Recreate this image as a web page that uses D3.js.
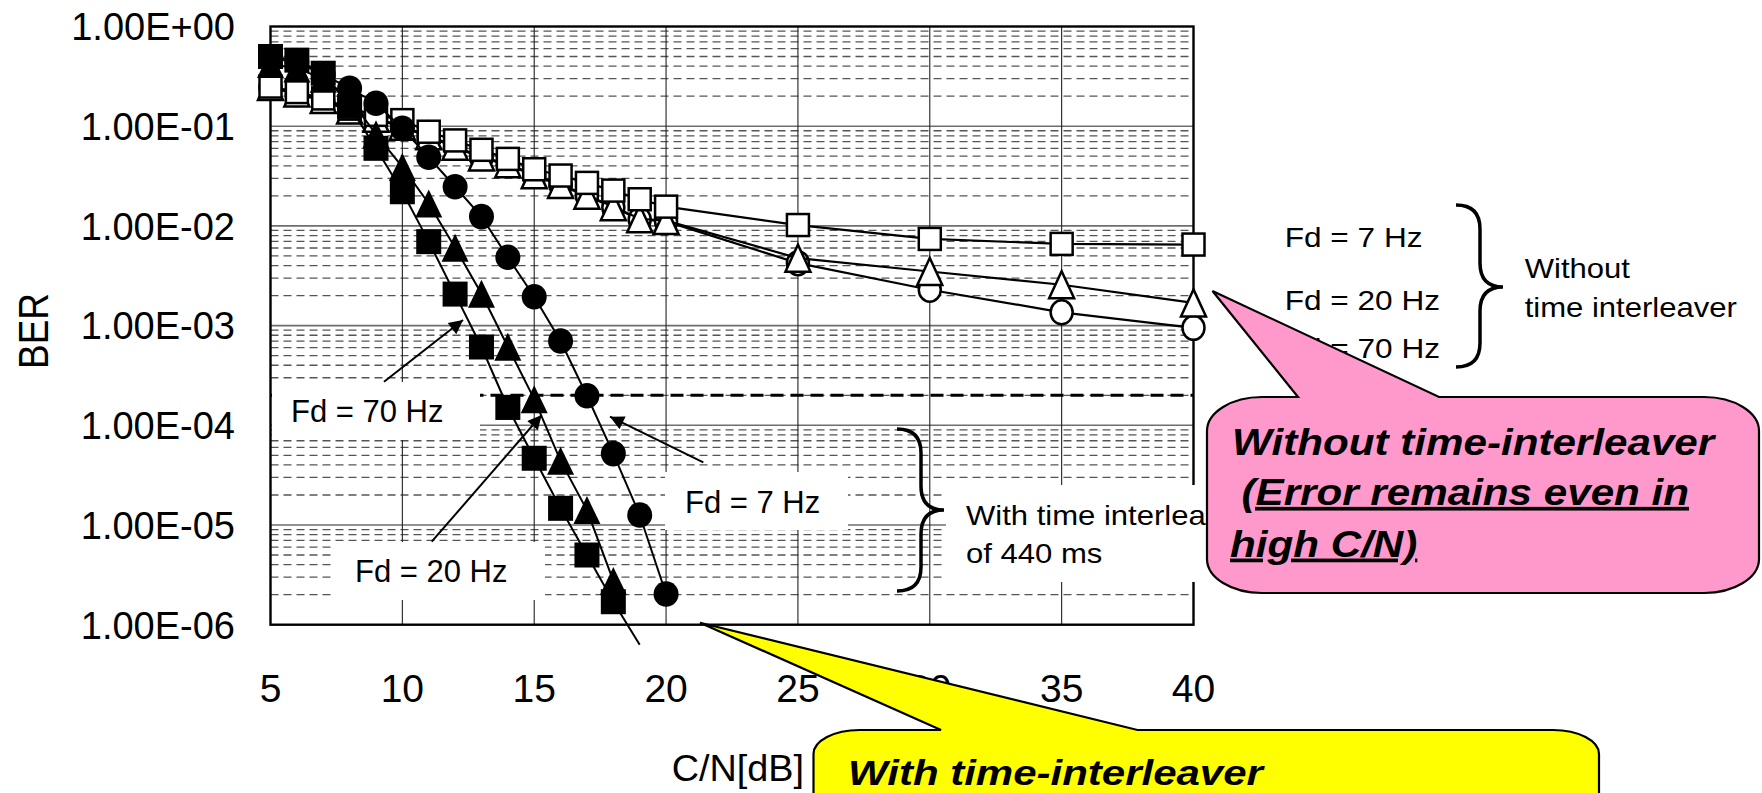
<!DOCTYPE html>
<html>
<head>
<meta charset="utf-8">
<script src="https://cdn.jsdelivr.net/npm/d3@7"></script>
<style>
  html, body { margin: 0; padding: 0; background: #fff; }
  svg { display: block; font-family: "Liberation Sans", Arial, sans-serif; }
</style>
</head>
<body>
<div id="chart"></div>
<script>
// chart size and plot frame
const width = 1762, height = 793;
const plot = {left: 270.5, right: 1193.5, top: 26.5, bottom: 624.7};

// ---- data ----
// x values (C/N in dB)
const cnWithout = [5, 6, 7, 8, 9, 10, 11, 12, 13, 14, 15, 16, 17, 18, 19, 20, 25, 30, 35, 40];
const cnWith7 = [5, 6, 7, 8, 9, 10, 11, 12, 13, 14, 15, 16, 17, 18, 19, 20];
const cnWith20 = [5, 6, 7, 8, 9, 10, 11, 12, 13, 14, 15, 16, 17, 18];
const cnWith70 = [5, 6, 7, 8, 9, 10, 11, 12, 13, 14, 15, 16, 17, 18, 19];

// without time interleaver (open markers)
const berWithout7 = [0.25, 0.22, 0.19, 0.15, 0.13, 0.115, 0.088, 0.072, 0.058, 0.047, 0.037, 0.032,
                     0.027, 0.0226, 0.0185, 0.0156, 0.0102, 0.0074, 0.0066, 0.0065];
const berWithout20 = [0.25, 0.215, 0.185, 0.145, 0.12, 0.1, 0.08, 0.063, 0.049, 0.042, 0.0325, 0.026,
                      0.0203, 0.0156, 0.0118, 0.0113, 0.00475, 0.00349, 0.00257, 0.00169];
const berWithout70 = [0.245, 0.21, 0.18, 0.142, 0.118, 0.098, 0.078, 0.062, 0.048, 0.041, 0.032, 0.0255,
                      0.02, 0.0153, 0.0116, 0.0111, 0.00423, 0.00229, 0.00136, 0.00095];

// with time interleaver of 440 ms (filled markers)
const berWith7 = [0.48, 0.44, 0.33, 0.24, 0.17, 0.095, 0.0488, 0.0247, 0.0124, 0.00484, 0.00195,
                  0.0007, 0.000198, 5.2e-5, 1.26e-5, 2.03e-6];
const berWith20 = [0.42, 0.38, 0.3, 0.19, 0.083, 0.039, 0.0168, 0.00605, 0.00209, 0.000614, 0.000183,
                   4.4e-5, 1.41e-5, 2.75e-6];
const berWith70 = [0.5, 0.46, 0.34, 0.158, 0.06, 0.022, 0.00695, 0.00207, 0.00061, 0.000151, 4.67e-5,
                   1.47e-5, 5.0e-6, 1.7e-6, 6.3e-7];

// reference level (dashed line)
const berTarget = 2e-4;

// axis ticks
const xTicks = [5, 10, 15, 20, 25, 30, 35, 40];
const yTicks = [1, 1e-1, 1e-2, 1e-3, 1e-4, 1e-5, 1e-6];
const yTickLabels = ["1.00E+00", "1.00E-01", "1.00E-02", "1.00E-03", "1.00E-04", "1.00E-05", "1.00E-06"];

// ---- svg ----
const svg = d3.select("#chart").append("svg")
  .attr("width", width)
  .attr("height", height);

const xScale = d3.scaleLinear().domain([5, 40]).range([plot.left, plot.right]);
const yScale = d3.scaleLog().domain([1e-6, 1]).range([plot.bottom, plot.top]);

// text with a horizontal stretch, like the squashed slide text
function addText(str, x, y, o) {
  o = o || {};
  const t = svg.append("text")
    .attr("transform", "translate(" + x + "," + y + ") scale(" + (o.sx || 1) + ",1)")
    .attr("font-size", o.size || 27)
    .attr("text-anchor", o.anchor || "start")
    .attr("fill", "#000")
    .text(str);
  if (o.bold) t.attr("font-weight", "bold");
  if (o.italic) t.attr("font-style", "italic");
  if (o.underline) t.attr("text-decoration", "underline");
  return t;
}

// ---- grid ----
const grid = svg.append("g");

// minor (dashed) horizontal lines 2..9 per decade
const minorVals = [];
d3.range(-6, 0).forEach(function(e) {
  d3.range(2, 10).forEach(function(k) { minorVals.push(k * Math.pow(10, e)); });
});
grid.selectAll(".minor").data(minorVals).enter().append("line")
  .attr("x1", plot.left).attr("x2", plot.right)
  .attr("y1", d => yScale(d)).attr("y2", d => yScale(d))
  .attr("stroke", "#555").attr("stroke-width", 1.3)
  .attr("stroke-dasharray", "8,5");

// major horizontal lines
grid.selectAll(".major").data(yTicks.slice(1, -1)).enter().append("line")
  .attr("x1", plot.left).attr("x2", plot.right)
  .attr("y1", d => yScale(d)).attr("y2", d => yScale(d))
  .attr("stroke", "#6e6e6e").attr("stroke-width", 1.6);

// vertical lines
grid.selectAll(".vert").data(xTicks.slice(1, -1)).enter().append("line")
  .attr("x1", d => xScale(d)).attr("x2", d => xScale(d))
  .attr("y1", plot.top).attr("y2", plot.bottom)
  .attr("stroke", "#222").attr("stroke-width", 1.1);

// 2E-4 reference line
svg.append("line")
  .attr("x1", plot.left).attr("x2", plot.right)
  .attr("y1", yScale(berTarget)).attr("y2", yScale(berTarget))
  .attr("stroke", "#000").attr("stroke-width", 3)
  .attr("stroke-dasharray", "13,7");

// plot frame
svg.append("rect")
  .attr("x", plot.left).attr("y", plot.top)
  .attr("width", plot.right - plot.left).attr("height", plot.bottom - plot.top)
  .attr("fill", "none").attr("stroke", "#000").attr("stroke-width", 2.4);

// white label boxes sitting on the grid
const boxes = [
  [272, 382, 208, 58],
  [335, 542, 210, 58],
  [665, 472, 183, 58],
  [946, 485, 290, 97]
];
svg.selectAll(".box").data(boxes).enter().append("rect")
  .attr("x", d => d[0]).attr("y", d => d[1])
  .attr("width", d => d[2]).attr("height", d => d[3])
  .attr("fill", "#fff");

// ---- series ----
function series(xs, ys, shape, filled) {
  const pts = xs.map((x, i) => ({x: x, y: ys[i]}));
  const g = svg.append("g");
  g.append("path")
    .datum(pts)
    .attr("fill", "none")
    .attr("stroke", "#000")
    .attr("stroke-width", filled ? 2 : 2.2)
    .attr("d", d3.line().x(d => xScale(d.x)).y(d => yScale(d.y)));

  const shown = pts.filter(d => d.y >= 1e-6);
  const fill = filled ? "#000" : "#fff";
  const sw = filled ? 0 : 2.5;
  const m = g.selectAll(".m").data(shown).enter();
  if (shape === "square") {
    const s = filled ? 25 : 22;
    m.append("rect")
      .attr("x", d => xScale(d.x) - s / 2).attr("y", d => yScale(d.y) - s / 2)
      .attr("width", s).attr("height", s)
      .attr("fill", fill).attr("stroke", "#000").attr("stroke-width", sw);
  } else if (shape === "circle") {
    m.append("ellipse")
      .attr("cx", d => xScale(d.x)).attr("cy", d => yScale(d.y))
      .attr("rx", filled ? 12.5 : 11).attr("ry", filled ? 12.8 : 12)
      .attr("fill", fill).attr("stroke", "#000").attr("stroke-width", sw);
  } else {
    const w = filled ? 27 : 25, h = filled ? 28 : 27;
    m.append("path")
      .attr("d", d => {
        const cx = xScale(d.x), cy = yScale(d.y);
        return "M" + cx + "," + (cy - h / 2) + "L" + (cx + w / 2) + "," + (cy + h / 2) +
               "L" + (cx - w / 2) + "," + (cy + h / 2) + "Z";
      })
      .attr("fill", fill).attr("stroke", "#000").attr("stroke-width", sw)
      .attr("stroke-linejoin", "miter");
  }
}

series(cnWithout, berWithout70, "circle", false);
series(cnWithout, berWithout20, "triangle", false);
series(cnWithout, berWithout7, "square", false);
series(cnWith70, berWith70, "square", true);
series(cnWith20, berWith20, "triangle", true);
series(cnWith7, berWith7, "circle", true);

// ---- axes text ----
yTicks.forEach(function(v, i) {
  addText(yTickLabels[i], 235, yScale(v) + 13.8, {size: 38, anchor: "end"});
});
xTicks.forEach(function(v) {
  addText(String(v), xScale(v), 701.7, {size: 39, anchor: "middle"});
});
svg.append("text")
  .attr("transform", "translate(48,331) rotate(-90) scale(1,1.13)")
  .attr("font-size", 37).attr("text-anchor", "middle")
  .text("BER");
addText("C/N[dB]", 671.7, 781, {size: 36, sx: 1.05});

// ---- annotations inside the plot ----
svg.append("defs").append("marker")
  .attr("id", "arrow").attr("viewBox", "0 0 10 10")
  .attr("refX", 10).attr("refY", 5)
  .attr("markerWidth", 8).attr("markerHeight", 7)
  .attr("markerUnits", "strokeWidth")
  .attr("orient", "auto")
  .append("path").attr("d", "M0,0L10,5L0,10Z").attr("fill", "#000");

const arrows = [
  [384, 381.7, 463, 320],
  [431.7, 541.7, 541.7, 415],
  [703.3, 462.3, 610, 416.7]
];
svg.selectAll(".arrow").data(arrows).enter().append("line")
  .attr("x1", d => d[0]).attr("y1", d => d[1])
  .attr("x2", d => d[2]).attr("y2", d => d[3])
  .attr("stroke", "#000").attr("stroke-width", 2)
  .attr("marker-end", "url(#arrow)");

addText("Fd = 70 Hz", 291, 421.7, {size: 31});
addText("Fd = 20 Hz", 355, 581.7, {size: 31});
addText("Fd = 7 Hz", 685, 513.3, {size: 31});

// braces
svg.append("path")
  .attr("d", "M897,429 Q921,429 921,453 L921,486 Q921,510 944,510 Q921,510 921,534 L921,567 Q921,591 897,591")
  .attr("fill", "none").attr("stroke", "#000").attr("stroke-width", 3.5);
svg.append("path")
  .attr("d", "M1456,205 Q1480,205 1480,229 L1480,263 Q1480,287 1503,287 Q1480,287 1480,311 L1480,343 Q1480,367 1456,367")
  .attr("fill", "none").attr("stroke", "#000").attr("stroke-width", 3.5);

addText("With time interleaver", 966, 525, {size: 27, sx: 1.15});
addText("of 440 ms", 966, 563.3, {size: 27, sx: 1.15});

// legend on the right
addText("Fd = 7 Hz", 1284.7, 246.7, {size: 27, sx: 1.17});
addText("Fd = 20 Hz", 1284.7, 310, {size: 27, sx: 1.17});
addText("Fd = 70 Hz", 1284.7, 358.3, {size: 27, sx: 1.17});
addText("Without", 1524.7, 278.3, {size: 27, sx: 1.15});
addText("time interleaver", 1524.7, 316.7, {size: 27, sx: 1.15});

// ---- callouts ----
function callout(body, tip, base, color) {
  const x0 = body.x0, x1 = body.x1, y0 = body.y0, y1 = body.y1, rx = body.rx, ry = body.ry;
  const d = "M" + base[0] + "," + y0 + " L" + tip[0] + "," + tip[1] + " L" + base[1] + "," + y0 +
    " L" + (x1 - rx) + "," + y0 + " A" + rx + "," + ry + " 0 0 1 " + x1 + "," + (y0 + ry) +
    " L" + x1 + "," + (y1 - ry) + " A" + rx + "," + ry + " 0 0 1 " + (x1 - rx) + "," + y1 +
    " L" + (x0 + rx) + "," + y1 + " A" + rx + "," + ry + " 0 0 1 " + x0 + "," + (y1 - ry) +
    " L" + x0 + "," + (y0 + ry) + " A" + rx + "," + ry + " 0 0 1 " + (x0 + rx) + "," + y0 + " Z";
  svg.append("path").attr("d", d)
    .attr("fill", color).attr("stroke", "#000").attr("stroke-width", 2.2)
    .attr("stroke-linejoin", "miter");
}

callout({x0: 1207, x1: 1759, y0: 397, y1: 593, rx: 55, ry: 34}, [1212.5, 291], [1298, 1439], "#ff99cc");
addText("Without time-interleaver", 1232, 455, {size: 37, sx: 1.14, bold: true, italic: true});
addText("(Error remains even in", 1241.5, 505, {size: 37, sx: 1.14, bold: true, italic: true, underline: true});
addText("high C/N)", 1230, 556.7, {size: 37, sx: 1.14, bold: true, italic: true, underline: true});

callout({x0: 813.5, x1: 1599, y0: 730, y1: 900, rx: 46, ry: 24}, [700, 622.7], [941, 1137.5], "#ffff00");
addText("With time-interleaver", 848, 785, {size: 35, sx: 1.2, bold: true, italic: true});
</script>
</body>
</html>
